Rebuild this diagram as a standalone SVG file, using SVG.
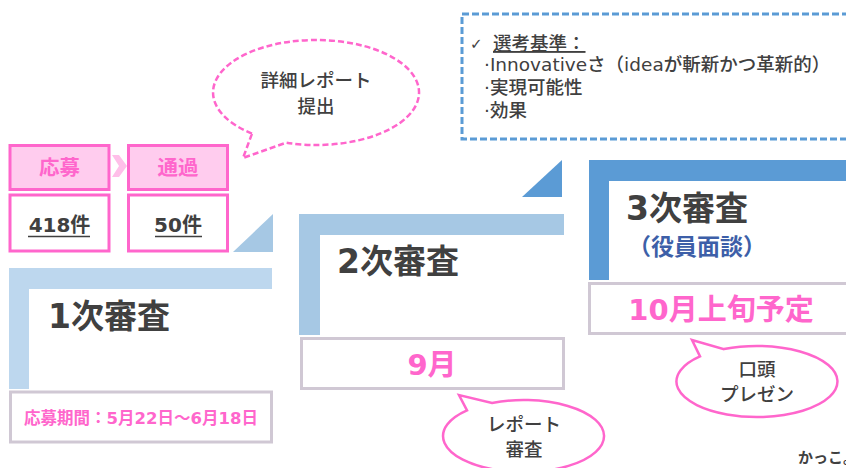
<svg xmlns="http://www.w3.org/2000/svg" width="846" height="468" viewBox="0 0 846 468">
<style>
text{font-family:"DejaVu Sans","Noto Sans CJK JP",sans-serif;fill:#404040;font-weight:700;}
.c{text-anchor:middle}
.p{fill:#ff66cc}
.hd{font-size:33px}
.pk{fill:#ffccee;stroke:#ff66cc;stroke-width:3}
.wh{fill:#fff;stroke:#ff66cc;stroke-width:3}
.gr{fill:#fff;stroke:#d0c8d4;stroke-width:3}
.bub{fill:#fff;stroke:#ff66cc;stroke-width:2.5}
.sm{font-size:18.500px;font-weight:500}
</style>
<rect width="846" height="468" fill="#fff"/>
<g id="apply"><rect class="pk" x="10" y="145.500" width="99" height="44"/><text class="c p" x="59.500" y="175" font-size="20.500">応募</text></g>
<polygon id="chevron" points="112,155 119,155 127,166 119,177 112,177 119,166" fill="#ffbfe9"/>
<g id="pass"><rect class="pk" x="128.500" y="145.500" width="99" height="44"/><text class="c p" x="178" y="175" font-size="20.500">通過</text></g>
<g id="count1"><rect class="wh" x="10" y="195" width="99" height="56"/><text class="c" x="59.500" y="232" font-size="20">418件</text></g>
<g id="count2"><rect class="wh" x="128.500" y="195" width="99" height="56"/><text class="c" x="178" y="232" font-size="20">50件</text></g>
<g id="count-underlines"><path d="M28,236.500H90M155,236.500H202" stroke="#404040" stroke-width="1.500" fill="none"/></g>
<g id="step1">
<polygon points="233,252 273,252 273,214" fill="#a6c8e4"/>
<polygon points="9,268 272,268 272,289 29,289 29,389 9,389" fill="#bdd7ee"/>
<text class="hd" x="48" y="328">1次審査</text>
<rect class="gr" x="10.500" y="392" width="261" height="50"/>
<text class="c p" x="141" y="424" font-size="16.500">応募期間：5月22日～6月18日</text>
</g>
<g id="step2">
<polygon points="522,197 562,197 562,160" fill="#5b9bd5"/>
<polygon points="299,214 564,214 564,235 320,235 320,335 299,335" fill="#a6c8e4"/>
<text class="hd" x="337" y="273">2次審査</text>
<rect class="gr" x="301.500" y="338.500" width="262" height="50"/>
<text class="c p" x="432" y="375" font-size="29">9月</text>
</g>
<g id="step3">
<polygon points="589,160 846,160 846,181 609,181 609,280 589,280" fill="#5b9bd5"/>
<text class="hd" x="626" y="220">3次審査</text>
<text x="628" y="255" font-size="23" style="fill:#3d5fa8">（役員面談）</text>
<rect class="gr" x="589.500" y="283.500" width="262" height="50"/>
<text class="c p" x="721" y="320" font-size="29">10月上旬予定</text>
</g>
<g id="bubble-report">
<path d="M252,133.600 A103,52.500 0 1 1 286,142.700 L243,158 Z" fill="#fff" stroke="#ff66cc" stroke-width="2.500" stroke-dasharray="6 3"/>
<text class="c sm" x="316" y="87">詳細レポート</text>
<text class="c sm" x="316" y="113">提出</text>
</g>
<g id="criteria">
<rect x="462" y="14" width="400" height="125" fill="#fff" stroke="#5b9bd5" stroke-width="3" stroke-dasharray="7 3"/>
<text x="470" y="49" font-size="15" font-weight="500">✓</text>
<text x="493" y="50" class="sm" text-decoration="underline">選考基準：</text>
<text x="484" y="71" class="sm">·Innovativeさ（ideaが斬新かつ革新的）</text>
<text x="484" y="94" class="sm">·実現可能性</text>
<text x="484" y="117" class="sm">·効果</text>
</g>
<g id="bubble-written">
<path d="M467,410.400 L459,395 L492,402.900 A80.500,36 0 1 1 467,410.400 Z" class="bub"/>
<text class="c sm" x="524" y="431">レポート</text>
<text class="c sm" x="524" y="456">審査</text>
</g>
<g id="bubble-oral">
<path d="M700,356.400 L692,340 L724,349.100 A80.500,35.500 0 1 1 700,356.400 Z" class="bub"/>
<text class="c sm" x="757" y="376">口頭</text>
<text class="c sm" x="757" y="401">プレゼン</text>
</g>
<text x="798" y="463" font-size="15">かっこ。</text>
</svg>
